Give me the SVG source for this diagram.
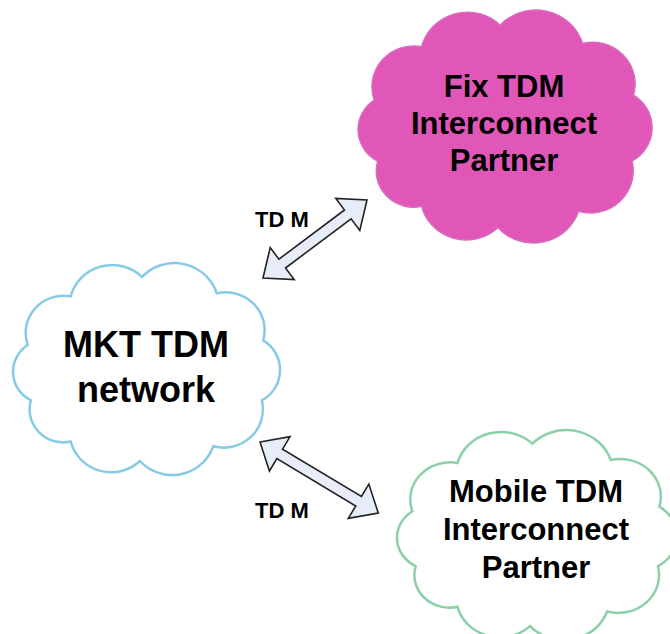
<svg xmlns="http://www.w3.org/2000/svg" xmlns:xlink="http://www.w3.org/1999/xlink" width="670" height="634" viewBox="0 0 670 634">
<style>
  .label{font-family:"Liberation Sans",Arial,sans-serif;font-weight:bold;fill:#000;text-anchor:middle}
  .big{font-size:31px}
  .mkt{font-size:36px}
  .tdm{font-size:22px;text-anchor:start}
  .arrow{fill:#E6ECF8;stroke:#222;stroke-width:1.6;stroke-linejoin:miter}
</style>
<defs>
  <path id="cloud" vector-effect="non-scaling-stroke" d="M26.4,94.6 A39.7,39.7 0 0 1 71.2,42.8 A44.7,44.7 0 0 1 145.5,22.1 A46.3,46.3 0 0 1 223.4,39.7 A40.3,40.3 0 0 1 271.7,89.7 A37,37 0 0 1 270.3,153.5 A40.7,40.7 0 0 1 219.7,202.2 A45.2,45.2 0 0 1 143.3,217.9 A43.5,43.5 0 0 1 71.2,197.2 A35,35 0 0 1 29.7,153.5 A34.2,34.2 0 0 1 26.4,94.6 Z"/>
  <path id="dblarrow" d="M0,0 L24,-20 L24,-5.5 L106,-5.5 L106,-20 L130,0 L106,20 L106,5.5 L24,5.5 L24,20 Z"/>
</defs>
<rect width="670" height="634" fill="#fff"/>

<g id="connectors">
  <path class="arrow" transform="translate(263,278) rotate(-36.87)" d="M0,0 L24,-20 L24,-5.5 L106,-5.5 L106,-20 L130,0 L106,20 L106,5.5 L24,5.5 L24,20 Z"/>
  <path class="arrow" transform="translate(260,442) rotate(31)" d="M0,0 L23,-20 L23,-5.5 L115,-5.5 L115,-20 L138,0 L115,20 L115,5.5 L23,5.5 L23,20 Z"/>
  <text class="label tdm" x="255" y="227">TD M</text>
  <text class="label tdm" x="255" y="518">TD M</text>
</g>

<g id="fix-partner">
  <use xlink:href="#cloud" href="#cloud" transform="translate(346.3,2.35) scale(1.0572,1.0337)" fill="#E157B8" stroke="#D76CC0" stroke-width="1.5"/>
  <text class="label big" x="504" y="97">Fix TDM</text>
  <text class="label big" x="504" y="134">Interconnect</text>
  <text class="label big" x="504" y="171">Partner</text>
</g>

<g id="mkt-network">
  <use xlink:href="#cloud" href="#cloud" transform="translate(2.34,256.04) scale(0.960,0.9406)" fill="#fff" stroke="#86CBE6" stroke-width="2.5"/>
  <text class="label mkt" x="146" y="357">MKT TDM</text>
  <text class="label mkt" x="146" y="402">network</text>
</g>

<g id="mobile-partner">
  <use xlink:href="#cloud" href="#cloud" transform="translate(385.8,423.1) scale(1.0068,0.9317)" fill="#fff" stroke="#8CD0AA" stroke-width="2.5"/>
  <text class="label big" x="536" y="502">Mobile TDM</text>
  <text class="label big" x="536" y="540">Interconnect</text>
  <text class="label big" x="536" y="578">Partner</text>
</g>
</svg>
